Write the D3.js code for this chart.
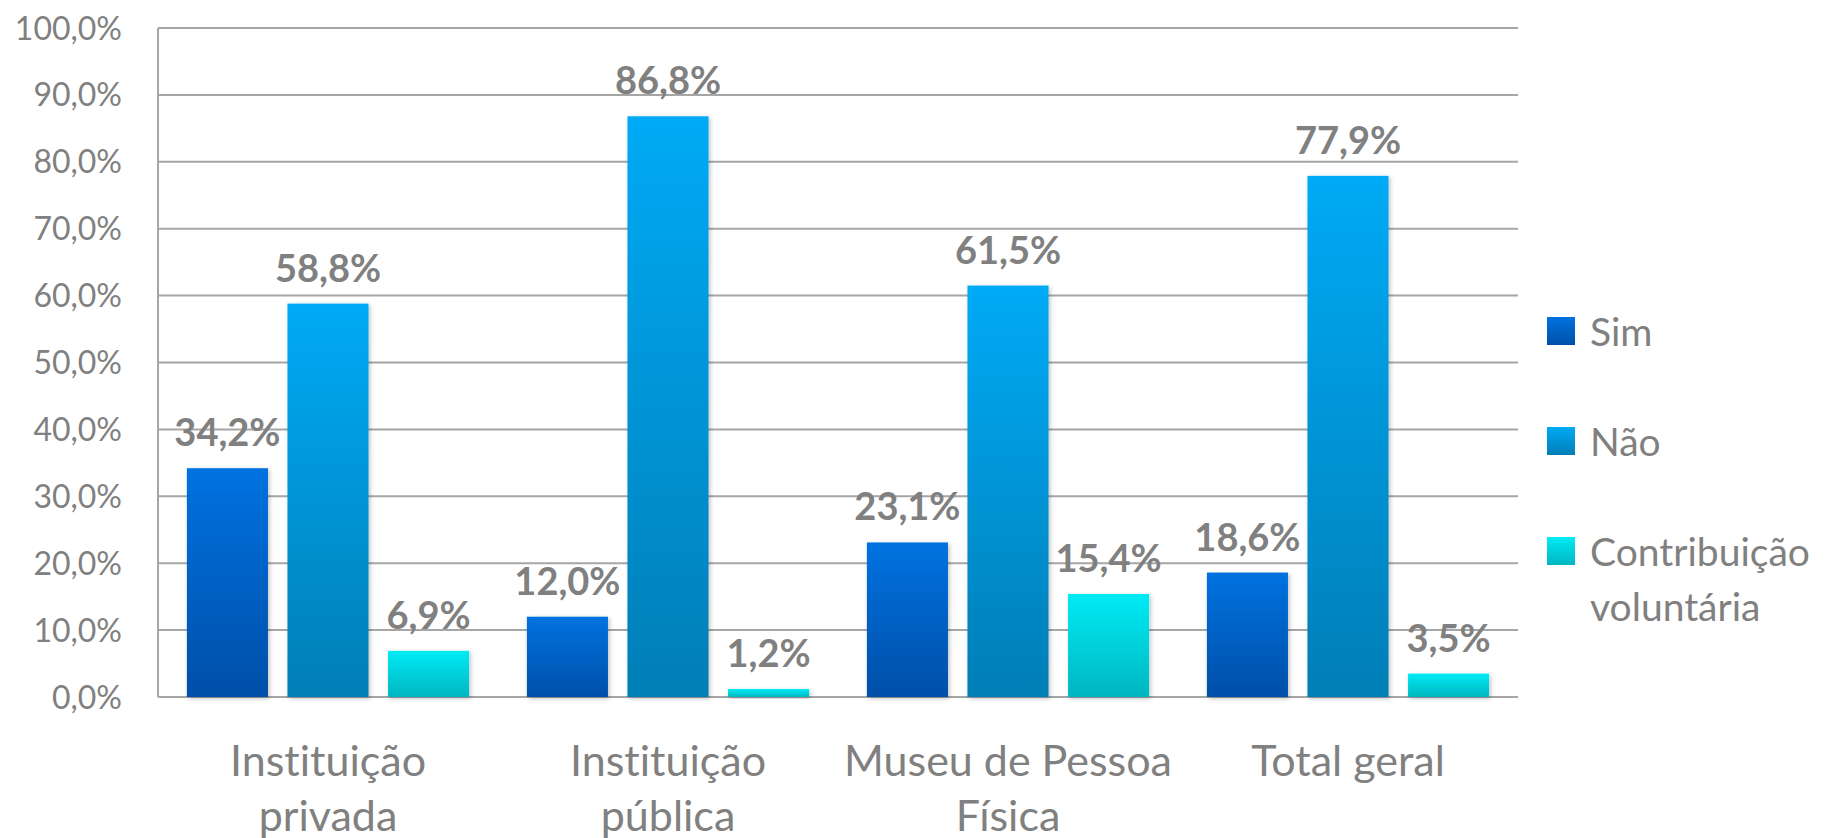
<!DOCTYPE html>
<html>
<head>
<meta charset="utf-8">
<script src="https://cdn.jsdelivr.net/npm/d3@7"></script>
<style>
  body { margin: 0; background: #fff; }
  text { font-family: Lato, "Open Sans", sans-serif; fill: #808080; font-variant-ligatures: none; }
</style>
</head>
<body>
<svg class="chart"></svg>
<script>
var width = 1841,
    height = 838;

// data
var categories = ["Instituição privada", "Instituição pública", "Museu de Pessoa Física", "Total geral"];
var categoryLines = [["Instituição", "privada"], ["Instituição", "pública"], ["Museu de Pessoa", "Física"], ["Total geral"]];
var series = ["Sim", "Não", "Contribuição voluntária"];
var legendLines = [["Sim"], ["Não"], ["Contribuição", "voluntária"]];
var sim = [34.2, 12.0, 23.1, 18.6];
var nao = [58.8, 86.8, 61.5, 77.9];
var contrib = [6.9, 1.2, 15.4, 3.5];
var yTicks = [0, 10, 20, 30, 40, 50, 60, 70, 80, 90, 100];

var values = [sim, nao, contrib];
var gradients = [["#0072e0", "#004fa8"], ["#00aaf5", "#007eb6"], ["#00ebf5", "#00b6c0"]];

var plotLeft = 158, plotRight = 1518, plotTop = 28, plotBottom = 697;

var x0 = d3.scaleBand()
    .domain(categories)
    .range([plotLeft, plotRight])
    .paddingInner(0.17)
    .paddingOuter(0.085);
var x1 = d3.scaleBand()
    .domain(series)
    .range([0, x0.bandwidth()])
    .paddingInner(0.194);
var y = d3.scaleLinear()
    .domain([0, 100])
    .range([plotBottom, plotTop]);

var fmt = function(v) { return d3.format(".1f")(v).replace(".", ",") + "%"; };

var chart = d3.select(".chart")
    .attr("width", width)
    .attr("height", height);

var defs = chart.append("defs");
series.forEach(function(s, i) {
  var g = defs.append("linearGradient")
      .attr("id", "grad" + i)
      .attr("x1", 0).attr("y1", 0).attr("x2", 0).attr("y2", 1);
  g.append("stop").attr("offset", "0%").attr("stop-color", gradients[i][0]);
  g.append("stop").attr("offset", "100%").attr("stop-color", gradients[i][1]);
});
var shadow = defs.append("filter").attr("id", "shadow")
    .attr("x", "-20%").attr("y", "-20%").attr("width", "140%").attr("height", "140%");
shadow.append("feDropShadow")
    .attr("dx", 1.5).attr("dy", 1.5).attr("stdDeviation", 2)
    .attr("flood-color", "#000").attr("flood-opacity", 0.25);

// gridlines
chart.append("g")
  .selectAll("line")
    .data(yTicks)
  .enter().append("line")
    .attr("x1", plotLeft)
    .attr("x2", plotRight)
    .attr("y1", function(d) { return y(d); })
    .attr("y2", function(d) { return y(d); })
    .attr("stroke", "#a6a6a6")
    .attr("stroke-width", 2);

chart.append("line")
    .attr("x1", plotLeft).attr("x2", plotLeft)
    .attr("y1", y(100)).attr("y2", y(0))
    .attr("stroke", "#a6a6a6")
    .attr("stroke-width", 2);

// y tick labels
chart.append("g")
  .selectAll("text")
    .data(yTicks)
  .enter().append("text")
    .attr("x", 122)
    .attr("y", function(d) { return y(d); })
    .attr("dy", "0.36em")
    .attr("text-anchor", "end")
    .style("font-size", "32px")
    .text(function(d) { return fmt(d); });

// bars
var group = chart.selectAll("g.cat")
    .data(categories)
  .enter().append("g")
    .attr("class", "cat")
    .attr("transform", function(d) { return "translate(" + x0(d) + ",0)"; });

group.selectAll("rect")
    .data(function(d, ci) { return series.map(function(s, si) { return {s: s, si: si, v: values[si][ci]}; }); })
  .enter().append("rect")
    .attr("x", function(d) { return x1(d.s); })
    .attr("y", function(d) { return y(d.v); })
    .attr("width", x1.bandwidth())
    .attr("height", function(d) { return y(0) - y(d.v); })
    .attr("fill", function(d) { return "url(#grad" + d.si + ")"; })
    .attr("filter", "url(#shadow)");

group.selectAll("text.val")
    .data(function(d, ci) { return series.map(function(s, si) { return {s: s, v: values[si][ci]}; }); })
  .enter().append("text")
    .attr("class", "val")
    .attr("x", function(d) { return x1(d.s) + x1.bandwidth() / 2; })
    .attr("y", function(d) { return y(d.v) - 22; })
    .attr("text-anchor", "middle")
    .style("font-size", "38px")
    .style("font-weight", "bold")
    .text(function(d) { return fmt(d.v); });

// category labels
chart.append("g")
  .selectAll("text")
    .data(categories)
  .enter().append("text")
    .attr("x", function(d) { return x0(d) + x0.bandwidth() / 2; })
    .attr("y", 776)
    .attr("text-anchor", "middle")
    .style("font-size", "43px")
  .each(function(d, i) {
    d3.select(this).selectAll("tspan")
        .data(categoryLines[i])
      .enter().append("tspan")
        .attr("x", x0(d) + x0.bandwidth() / 2)
        .attr("dy", function(t, j) { return j ? 55 : 0; })
        .text(function(t) { return t; });
  });

// legend
var legend = chart.selectAll("g.legend")
    .data(series)
  .enter().append("g")
    .attr("class", "legend")
    .attr("transform", function(d, i) { return "translate(1547," + (317 + i * 110) + ")"; });

legend.append("rect")
    .attr("width", 28)
    .attr("height", 28)
    .attr("fill", function(d, i) { return "url(#grad" + i + ")"; });

legend.append("text")
    .attr("x", 43)
    .attr("y", 29)
    .style("font-size", "39px")
  .each(function(d, i) {
    d3.select(this).selectAll("tspan")
        .data(legendLines[i])
      .enter().append("tspan")
        .attr("x", 43)
        .attr("dy", function(t, j) { return j ? 55 : 0; })
        .text(function(t) { return t; });
  });
</script>
</body>
</html>
